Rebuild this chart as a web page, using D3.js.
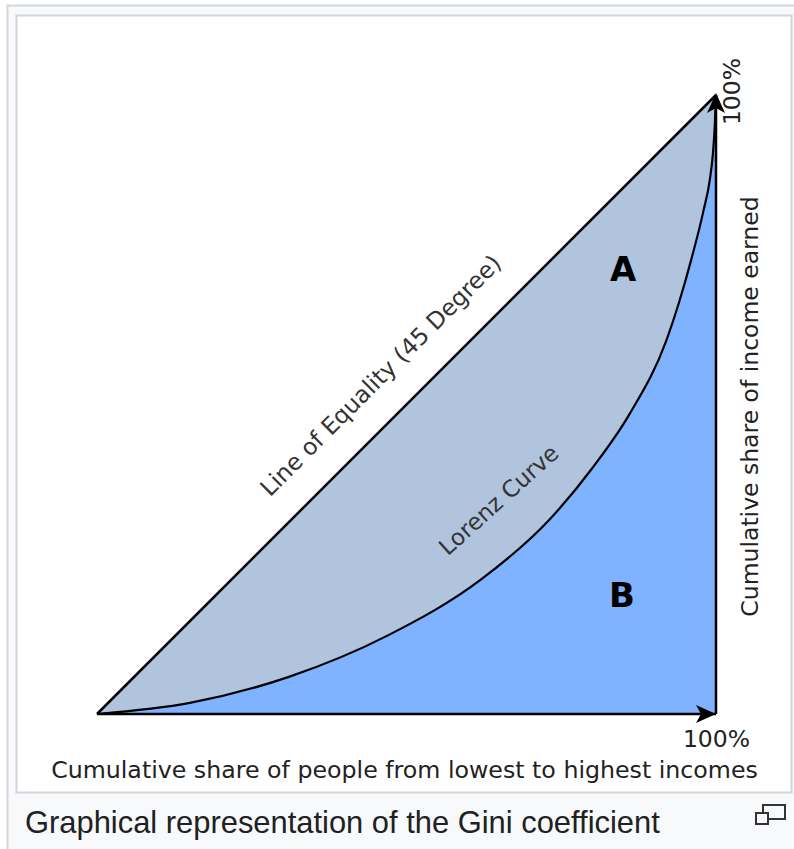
<!DOCTYPE html>
<html>
<head>
<meta charset="utf-8">
<script src="https://cdn.jsdelivr.net/npm/d3@7"></script>
<style>
  html, body { margin: 0; padding: 0; background: #fff; }
  svg { display: block; }
</style>
</head>
<body>
<svg id="chart" width="794" height="849"></svg>
<script>
// ---- data (percent) ----
const peopleShare = [0, 15, 31, 47, 62, 73, 80, 86, 92, 94, 96, 98, 99, 99.5, 99.8, 100];
const incomeShare = [0, 1.8, 6.0, 12.7, 21.7, 31.3, 39.7, 48.4, 60.4, 66.4, 73.4, 81.4, 86.3, 90.5, 95.0, 100];
const equalityLine = [0, 100];
const tickLabels = ["100%", "100%"];
const axisTitles = ["Cumulative share of people from lowest to highest incomes",
                    "Cumulative share of income earned"];
const curveLabels = ["Line of Equality (45 Degree)", "Lorenz Curve"];
const areaLabels = ["A", "B"];
const caption = "Graphical representation of the Gini coefficient";

const lorenz = peopleShare.map((p, i) => ({ p, v: incomeShare[i] }));

const svg = d3.select("#chart");

// ---- thumbnail frame ----
svg.append("rect").attr("x", 7.5).attr("y", 5.5).attr("width", 800).attr("height", 860)
  .attr("fill", "#f8f9fa").attr("stroke", "#d4d6d9").attr("stroke-width", 2);
svg.append("rect").attr("x", 16.5).attr("y", 15.5).attr("width", 775).attr("height", 777)
  .attr("fill", "#fff").attr("stroke", "#d0d3d7").attr("stroke-width", 2);

// ---- scales ----
const x = d3.scaleLinear().domain([0, 100]).range([97, 716]);
const y = d3.scaleLinear().domain([0, 100]).range([714, 95]);

const g = svg.append("g");
const curve = d3.curveMonotoneX;

// region A (triangle under equality line)
const tri = d3.line().x(d => x(d[0])).y(d => y(d[1]));
g.append("path")
  .attr("d", tri([[0, 0], [100, 100], [100, 0]]) + "Z")
  .attr("fill", "#b0c4de");

// region B (under Lorenz curve)
const area = d3.area().x(d => x(d.p)).y0(y(0)).y1(d => y(d.v)).curve(curve);
g.append("path").datum(lorenz).attr("d", area).attr("fill", "#80b3ff");

// Lorenz curve
const line = d3.line().x(d => x(d.p)).y(d => y(d.v)).curve(curve);
g.append("path").datum(lorenz).attr("d", line)
  .attr("fill", "none").attr("stroke", "#000").attr("stroke-width", 2.2);

// equality line
g.append("path").attr("d", tri(equalityLine.map(v => [v, v])))
  .attr("fill", "none").attr("stroke", "#000").attr("stroke-width", 2.5);

// axes lines (bottom, right)
g.append("path").attr("d", tri([[0, 0], [100, 0]]))
  .attr("stroke", "#000").attr("stroke-width", 2.5);
g.append("path").attr("d", tri([[100, 0], [100, 100]]))
  .attr("stroke", "#000").attr("stroke-width", 2.5);

// arrowheads
function arrow(tipX, tipY, angleDeg) {
  g.append("path")
    .attr("d", "M0,0 L-20,-9 L-15,0 L-20,9 Z")
    .attr("transform", `translate(${tipX},${tipY}) rotate(${angleDeg})`)
    .attr("fill", "#000");
}
arrow(x(100), y(100) - 2, -90);
arrow(x(100), y(0), 0);

// ---- texts ----
const font = "DejaVu Sans, Verdana, sans-serif";
const txtColor = "#222";

// tick labels
svg.append("text").attr("x", x(100) + 0.5).attr("y", y(0) + 33)
  .attr("text-anchor", "middle").attr("font-family", font).attr("font-size", 23.5)
  .attr("fill", txtColor).text(tickLabels[0]);
svg.append("text")
  .attr("transform", `translate(${x(100) + 24},${y(100) - 3.5}) rotate(-90)`)
  .attr("text-anchor", "middle").attr("font-family", font).attr("font-size", 23.5)
  .attr("fill", txtColor).text(tickLabels[1]);

// axis titles
svg.append("text").attr("x", (x(0) + x(100)) / 2 - 2).attr("y", y(0) + 64)
  .attr("text-anchor", "middle").attr("font-family", font).attr("font-size", 23.7)
  .attr("fill", txtColor).text(axisTitles[0]);
svg.append("text")
  .attr("transform", `translate(${x(100) + 42},${(y(0) + y(100)) / 2 + 2}) rotate(-90)`)
  .attr("text-anchor", "middle").attr("font-family", font).attr("font-size", 23.5)
  .attr("fill", txtColor).text(axisTitles[1]);

// curve labels
svg.append("text")
  .attr("transform", `translate(${x(45.8)},${y(54.7)}) rotate(-45)`)
  .attr("text-anchor", "middle").attr("dy", "0.35em")
  .attr("font-family", font).attr("font-size", 23.4).attr("fill", "#333")
  .text(curveLabels[0]);
svg.append("text")
  .attr("transform", `translate(${x(64.9)},${y(34.6)}) rotate(-42)`)
  .attr("text-anchor", "middle").attr("dy", "0.35em")
  .attr("font-family", font).attr("font-size", 23).attr("fill", "#333")
  .text(curveLabels[1]);

// area labels
svg.append("text").attr("x", x(85)).attr("y", y(72)).attr("dy", "0.36em")
  .attr("text-anchor", "middle").attr("font-family", font).attr("font-weight", "bold")
  .attr("font-size", 34).attr("fill", "#000").text(areaLabels[0]);
svg.append("text").attr("x", x(84.8)).attr("y", y(19.2)).attr("dy", "0.36em")
  .attr("text-anchor", "middle").attr("font-family", font).attr("font-weight", "bold")
  .attr("font-size", 34).attr("fill", "#000").text(areaLabels[1]);

// caption
svg.append("text").attr("x", 25).attr("y", 833)
  .attr("font-family", "Liberation Sans, Arial, sans-serif").attr("font-size", 30.9)
  .attr("fill", "#202122").text(caption);

// enlarge icon
const icon = svg.append("g").attr("fill", "none").attr("stroke", "#333").attr("stroke-width", 2);
icon.append("rect").attr("x", 763).attr("y", 805).attr("width", 22).attr("height", 14).attr("fill", "#f8f9fa");
icon.append("rect").attr("x", 756).attr("y", 813).attr("width", 12).attr("height", 11).attr("fill", "#f8f9fa");
</script>
</body>
</html>
